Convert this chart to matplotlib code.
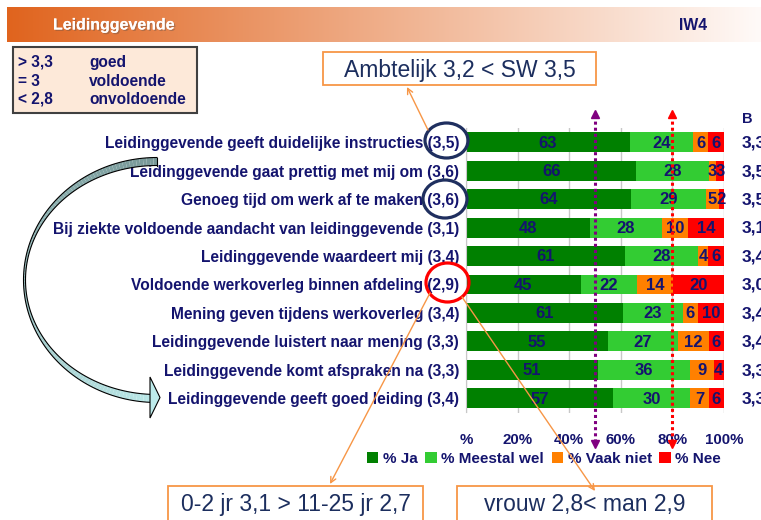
import matplotlib.pyplot as plt
import matplotlib.patheffects as pe
from matplotlib.patches import Rectangle, Ellipse, Polygon
import numpy as np

# survey statements with their average score
categories = [
    'Leidinggevende geeft duidelijke instructies (3,5)',
    'Leidinggevende gaat prettig met mij om (3,6)',
    'Genoeg tijd om werk af te maken (3,6)',
    'Bij ziekte voldoende aandacht van leidinggevende (3,1)',
    'Leidinggevende waardeert mij (3,4)',
    'Voldoende werkoverleg binnen afdeling (2,9)',
    'Mening geven tijdens werkoverleg (3,4)',
    'Leidinggevende luistert naar mening (3,3)',
    'Leidinggevende komt afspraken na (3,3)',
    'Leidinggevende geeft goed leiding (3,4)',
]
ja = [63, 66, 64, 48, 61, 45, 61, 55, 51, 57]
meestal_wel = [24, 28, 29, 28, 28, 22, 23, 27, 36, 30]
vaak_niet = [6, 3, 5, 10, 4, 14, 6, 12, 9, 7]
nee = [6, 3, 2, 14, 6, 20, 10, 6, 4, 6]
series_names = ['% Ja', '% Meestal wel', '% Vaak niet', '% Nee']
b_scores = ['3,3', '3,5', '3,5', '3,1', '3,4', '3,0', '3,4', '3,4', '3,3', '3,3']
tick_values = [0, 20, 40, 60, 80, 100]
tick_labels = ['%', '20%', '40%', '60%', '80%', '100%']
ref_lines = [50, 80]

colors = ['#008000', '#33CC33', '#FF8000', '#FF0000']
ref_colors = ['#800080', '#FF0000']
NAVY = '#14146E'
BOXTXT = '#1C2E5E'
ORANGE = '#F79646'

plt.rcParams['font.family'] = ['Liberation Sans', 'DejaVu Sans']

fig = plt.figure(figsize=(7.61, 5.20), dpi=100)
W, H = 761, 520
ax = fig.add_axes([466 / W, 1 - 412.5 / H, 258 / W, 284.5 / H])

# 100% stacked bars
data = np.array([ja, meestal_wel, vaak_niet, nee], dtype=float)
shares = data / data.sum(axis=0) * 100
y = np.arange(len(categories))
left = np.zeros(len(categories))
for vals, share, color, name in zip(data, shares, colors, series_names):
    ax.barh(y, share, left=left, height=0.7, color=color, label=name, zorder=2)
    for yi, l, s, v in zip(y, left, share, vals):
        ax.text(l + s / 2, yi + 0.03, f'{v:.0f}', ha='center', va='center',
                fontsize=12, fontweight='bold', color=NAVY, zorder=3)
    left += share

ax.set_xlim(0, 100)
ax.set_ylim(9.5, -0.5)
ax.set_xticks(tick_values, tick_labels, fontweight='bold')
ax.set_yticks(y, categories, fontweight='bold')
ax.tick_params(axis='x', length=0, pad=15, labelsize=10.8, labelcolor=NAVY)
ax.tick_params(axis='y', length=0, pad=5, labelsize=11.2, labelcolor=NAVY)
ax.xaxis.grid(True, color='#C8C8C8', lw=1)
ax.set_axisbelow(True)
for side in ['top', 'right', 'bottom']:
    ax.spines[side].set_visible(False)
ax.spines['left'].set_color('#C8C8C8')

# dotted reference arrows
for xr, col in zip(ref_lines, ref_colors):
    ax.plot([xr, xr], [-0.95, 10.6], color=col, ls=(0, (1, 1)), lw=2.2,
            clip_on=False, zorder=5)
    ax.plot([xr], [-0.98], marker='^', ms=6, color=col, clip_on=False, zorder=5)
    ax.plot([xr], [10.62], marker='v', ms=6, color=col, clip_on=False, zorder=5)

# B column on the right
ax.text(109, -0.81, 'B', ha='center', va='center', fontsize=10.5,
        fontweight='bold', color=NAVY, clip_on=False)
for yi, s in zip(y, b_scores):
    ax.text(107, yi + 0.03, s, ha='left', va='center', fontsize=12.5,
            fontweight='bold', color=NAVY, clip_on=False)

ax.legend(ncol=4, loc='center', bbox_to_anchor=(544 / W, 1 - 459 / H),
          bbox_transform=fig.transFigure, frameon=False,
          prop={'weight': 'bold', 'size': 11}, labelcolor=NAVY,
          handlelength=0.75, handleheight=0.75, handletextpad=0.3,
          columnspacing=0.5, borderpad=0)

# overlay in pixel units for the slide decorations
ov = fig.add_axes([0, 0, 1, 1], zorder=5)
ov.patch.set_alpha(0)

grad = np.linspace(0, 1, 256)[:, None]
c0 = np.array([224, 100, 30]) / 255
c1 = np.array([255, 250, 248]) / 255
band = (c0 + (c1 - c0) * grad)[None, :, :]
ov.imshow(band, extent=(7, 761, 42, 7), aspect='auto', zorder=0)
ov.set_xlim(0, W)
ov.set_ylim(H, 0)
ov.axis('off')

ov.text(53, 25, 'Leidinggevende', color='white', fontsize=11.5,
        fontweight='bold', va='center',
        path_effects=[pe.withSimplePatchShadow(offset=(1, -1), alpha=0.35), pe.Normal()])
ov.text(693, 25, 'IW4', color=NAVY, fontsize=11.3, fontweight='bold',
        ha='center', va='center')

# score legend box
ov.add_patch(Rectangle((13, 47), 184, 66, fc='#FDE9D9', ec='#404040', lw=1.5))
for yy, a, b in zip([62, 81, 99], ['> 3,3', '= 3', '< 2,8'],
                    ['goed', 'voldoende', 'onvoldoende']):
    ov.text(18, yy, a, fontsize=11.2, fontweight='bold', color=NAVY, va='center')
    ov.text(89, yy, b, fontsize=11.2, fontweight='bold', color=NAVY, va='center')

# comment boxes
for (x0, y0, w, h), txt in zip([(323, 52, 273, 33), (168, 486, 255, 36), (457, 486, 255, 36)],
                               ['Ambtelijk 3,2 < SW 3,5', '0-2 jr 3,1 > 11-25 jr 2,7',
                                'vrouw 2,8< man 2,9']):
    ov.add_patch(Rectangle((x0, y0), w, h, fc='white', ec=ORANGE, lw=1.3))
    ov.text(x0 + w / 2, y0 + 18.5, txt, ha='center', va='center',
            fontsize=16.5, color=BOXTXT)

# circled scores
ov.add_patch(Ellipse((446.5, 140.5), 43, 35, fill=False, ec='#1F2F5F', lw=2.3))
ov.add_patch(Ellipse((445, 199), 44, 38, fill=False, ec='#1F2F5F', lw=2.3))
ov.add_patch(Ellipse((447.5, 282.5), 43, 39, fill=False, ec='#FF0000', lw=2.3))

arrow_kw = dict(arrowstyle='->', color=ORANGE, lw=1, shrinkA=0, shrinkB=0)
ov.annotate('', xy=(407, 87), xytext=(428, 130), arrowprops=arrow_kw)
ov.annotate('', xy=(330, 484), xytext=(430, 293), arrowprops=arrow_kw)
ov.annotate('', xy=(595, 491), xytext=(462, 297), arrowprops=arrow_kw)

# curved block arrow on the left
t = np.linspace(np.pi / 2, 3 * np.pi / 2 - 0.05, 120)
wd = 2 + 6 * np.sin(t) ** 2
cx, cy, rx, ry = 157, 280, 132.5, 118.5
ox = cx + (rx + wd / 2) * np.cos(t)
oy = cy - (ry + wd / 2) * np.sin(t)
ix = cx + (rx - wd / 2) * np.cos(t)
iy = cy - (ry - wd / 2) * np.sin(t)
top_c = np.array([120, 152, 152]) / 255
bot_c = np.array([185, 230, 230]) / 255
for i in range(len(t) - 1):
    f = i / (len(t) - 2)
    quad = [(ox[i], oy[i]), (ox[i + 1], oy[i + 1]), (ix[i + 1], iy[i + 1]), (ix[i], iy[i])]
    ov.add_patch(Polygon(quad, closed=True, fc=top_c + (bot_c - top_c) * f,
                         ec='none', zorder=2))
ov.plot(ox, oy, color='black', lw=0.8, zorder=3)
ov.plot(ix, iy, color='black', lw=0.8, zorder=3)
ov.plot([ox[0], ix[0]], [oy[0], iy[0]], color='black', lw=0.8, zorder=3)
ov.add_patch(Polygon([(150, 377), (160, 397.5), (150, 418)], closed=True,
                     fc='#BDEBEB', ec='black', lw=0.8, zorder=3))

fig.savefig('out.png', dpi=100)
